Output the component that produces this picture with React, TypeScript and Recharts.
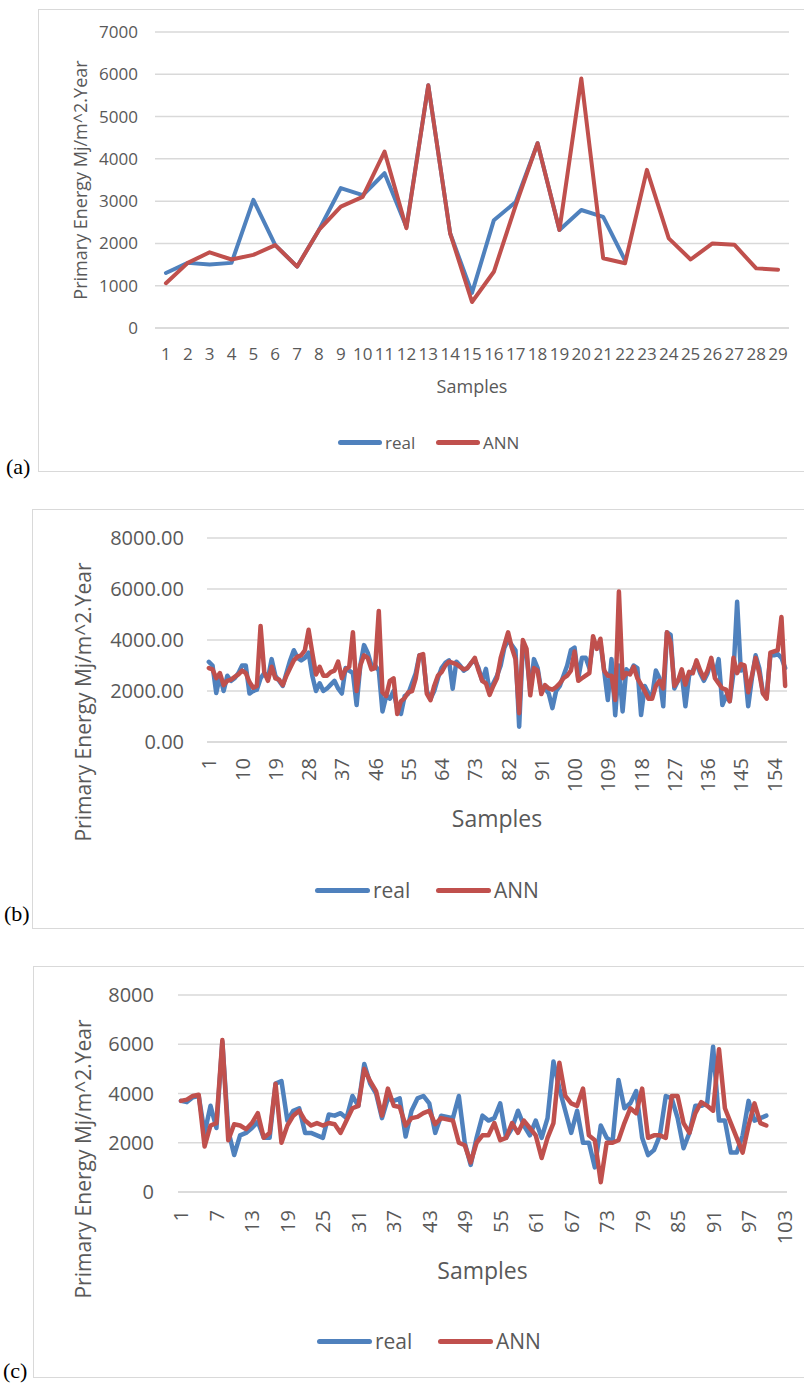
import React from "react";
import { CartesianGrid, Label, Line, LineChart, XAxis, YAxis } from "recharts";

const BLUE = "#4f81bd";
const RED = "#c0504d";
const GRID = "#d9d9d9";
const TEXT = "#595959";
const FONT = "'Open Sans', sans-serif";
const Y_TITLE = "Primary Energy Mj/m^2.Year";

// panel (a): 29 samples, real only known for the first 22
const aSamples = Array.from({ length: 29 }, (_, i) => String(i + 1));
const aReal = [1300, 1540, 1500, 1540, 3030, 1960, 1450, 2320, 3310, 3140, 3660, 2390, 5740, 2240, 830, 2550, 2980, 4370, 2320, 2790, 2630, 1600];
const aAnn = [1060, 1540, 1790, 1620, 1730, 1960, 1450, 2320, 2870, 3100, 4170, 2360, 5740, 2240, 615, 1330, 2900, 4370, 2320, 5900, 1650, 1530, 3740, 2120, 1620, 2000, 1970, 1410, 1380];
const aTicks = [0, 1000, 2000, 3000, 4000, 5000, 6000, 7000];

// panel (b): 157 samples
const bSamples = Array.from({ length: 157 }, (_, i) => String(i + 1));
const bReal = [
  3140, 3000, 1920, 2600, 2000, 2600, 2400, 2500, 2700, 3000,
  3000, 1900, 2000, 2050, 2500, 2700, 2500, 3250, 2600, 2400,
  2200, 2700, 3200, 3600, 3300, 3200, 3300, 3500, 2600, 2000,
  2300, 2000, 2100, 2250, 2400, 2100, 1900, 2900, 2800, 2700,
  1450, 3000, 3800, 3500, 3000, 3000, 2800, 1200, 1800, 1700,
  2000, 1300, 1100, 1800, 1900, 2300, 2700, 3400, 3300, 2000,
  1700, 2000, 2500, 2900, 3100, 3200, 2090, 3150, 3000, 2800,
  2900, 3100, 3200, 2900, 2400, 2870, 2000, 2300, 2600, 3000,
  3700, 4000, 3800, 3600, 600, 3800, 3400, 2000, 3250, 2900,
  2000, 2100, 1900, 1330, 2000, 2200, 2600, 3000, 3600, 3700,
  2500, 3300, 3300, 2900, 3900, 3800, 3900, 2800, 1650, 3250,
  1050, 3000, 1200, 2850, 2700, 3000, 2900, 1060, 2200, 1900,
  1800, 2800, 2500, 1400, 4300, 4200, 2100, 2400, 2700, 1400,
  2600, 2800, 3100, 2700, 2400, 2700, 3200, 2600, 3250, 1450,
  1800, 1600, 2700, 5500, 2800, 2900, 1400, 2500, 3400, 2900,
  1900, 1800, 3400, 3400, 3450, 3300, 2900,
];
const bAnn = [
  2900, 2850, 2500, 2700, 2230, 2400, 2450, 2550, 2650, 2800,
  2700, 2350, 2130, 2200, 4550, 2740, 2400, 2950, 2500, 2450,
  2230, 2600, 2900, 3200, 3350, 3400, 3600, 4400, 3500, 2650,
  2950, 2600, 2600, 2740, 2800, 3150, 2500, 2850, 2950, 4300,
  2000, 3000, 3400, 3300, 2850, 2900, 5140, 1950, 1800, 2400,
  2500, 1100, 1600, 1720, 1950, 2000, 2500, 3400, 3450, 1900,
  1640, 2200, 2600, 2740, 3000, 3150, 3100, 3050, 2950, 2850,
  2900, 3100, 3300, 2800, 2400, 2300, 1850, 2200, 2500, 3300,
  3800, 4300, 3700, 3250, 1130, 4000, 3650, 1830, 2900, 2800,
  1880, 2230, 2100, 2050, 2150, 2300, 2500, 2600, 2800, 3550,
  2400, 2500, 2600, 2700, 4150, 3650, 4050, 2800, 2600, 2600,
  1650, 5900, 2500, 2700, 2650, 2950, 2500, 2250, 2000, 1700,
  1700, 2200, 2400, 2100, 4300, 3900, 2200, 2400, 2850, 2250,
  2750, 2700, 3200, 2800, 2500, 2800, 3300, 2500, 2300, 2100,
  2050, 1600, 3300, 2700, 3050, 3000, 1950, 2600, 3300, 2700,
  1900, 1700, 3500, 3550, 3600, 4900, 2200,
];
const bTicks = [0, 2000, 4000, 6000, 8000];

// panel (c): axis runs to 103, data stops at 100
const cSamples = Array.from({ length: 103 }, (_, i) => String(i + 1));
const cReal = [
  3700, 3650, 3850, 3900, 2400, 3500, 2600, 6100, 2500, 1500,
  2300, 2400, 2600, 2850, 2200, 2200, 4400, 4500, 2900, 3300,
  3400, 2400, 2400, 2300, 2200, 3150, 3100, 3200, 3000, 3900,
  3500, 5200, 4400, 4000, 3000, 3800, 3700, 3800, 2250, 3300,
  3800, 3900, 3600, 2400, 3100, 3050, 3000, 3900, 2000, 1100,
  2200, 3100, 2900, 3000, 3600, 2200, 2600, 3300, 2700, 2300,
  2900, 2200, 3000, 5300, 4200, 3300, 2400, 3300, 2000, 2000,
  1000, 2700, 2200, 2050, 4550, 3400, 3600, 4100, 2200, 1500,
  1700, 2300, 3900, 3800, 3000, 1780, 2400, 3500, 3500, 3600,
  5900, 2900, 2900, 1600, 1600, 2300, 3700, 2900, 3000, 3100,
];
const cAnn = [
  3700, 3750, 3900, 3950, 1850, 2700, 2800, 6170, 2100, 2750,
  2700, 2550, 2800, 3200, 2200, 2400, 4400, 2000, 2700, 3100,
  3300, 2900, 2700, 2800, 2700, 2800, 2750, 2400, 2900, 3400,
  3500, 5000, 4500, 4100, 3100, 4200, 3500, 3450, 2700, 3000,
  3050, 3200, 3300, 2750, 3000, 2950, 2900, 2000, 1900, 1200,
  2000, 2300, 2300, 2800, 2100, 2200, 2800, 2400, 2900, 2600,
  2300, 1380, 2200, 2800, 5250, 3900, 3600, 3500, 4200, 2300,
  2100, 400, 2000, 2000, 2100, 2800, 3400, 3200, 4200, 2200,
  2300, 2300, 2200, 3900, 3900, 2800, 2400, 3200, 3650, 3500,
  3300, 5800, 3400, 2800, 2200, 1600, 2700, 3600, 2800, 2700,
];
const cTicks = [0, 2000, 4000, 6000, 8000];

type Row = { sample: string; real: number | null; ann: number | null };

function makeRows(samples: string[], real: number[], ann: number[]): Row[] {
  return samples.map((s, i) => ({
    sample: s,
    real: real[i] ?? null,
    ann: ann[i] ?? null,
  }));
}

interface PanelProps {
  tag: string;
  tagLeft: number;
  tagTop: number;
  left: number;
  top: number;
  width: number;
  height: number;
  margin: { top: number; right: number; bottom: number; left: number };
  rows: Row[];
  yTicks: number[];
  yFormat: (v: number) => string;
  yAxisWidth: number;
  yTickMargin: number;
  tickFont: number;
  xInterval: number;
  xRotate: boolean;
  xTickMargin: number;
  xAxisHeight: number;
  titleFont: number;
  xTitleFont: number;
  yTitle: { x: number; y: number };
  xTitleY: number;
  legend: { left: number; top: number; gap: number; swatch: number; font: number };
  strokeWidth: number;
}

function Panel(p: PanelProps) {
  const plotLeft = p.margin.left + p.yAxisWidth;
  const plotW = p.width - plotLeft - p.margin.right;
  const half = plotW / (2 * p.rows.length);

  const rotatedTick = (props: any) => {
    const { x, y, payload } = props;
    return (
      <text
        x={x}
        y={y}
        transform={`rotate(-90 ${x} ${y})`}
        textAnchor="end"
        dominantBaseline="central"
        fill={TEXT}
        fontSize={p.tickFont}
        fontFamily={FONT}
      >
        {payload.value}
      </text>
    );
  };

  const legendItem = (name: string, color: string, x: number) => (
    <div
      style={{
        position: "absolute",
        left: x,
        top: 0,
        display: "flex",
        alignItems: "center",
        height: 0,
      }}
    >
      <div style={{ width: p.legend.swatch, height: 5, borderRadius: 3, background: color, marginRight: 3 }} />
      <span style={{ fontSize: p.legend.font, color: TEXT, fontFamily: FONT, lineHeight: 1 }}>{name}</span>
    </div>
  );

  return (
    <>
      <div
        style={{
          position: "absolute",
          left: p.left,
          top: p.top,
          width: p.width + 20,
          height: p.height,
          border: `1.5px solid ${GRID}`,
          boxSizing: "border-box",
        }}
      />
      <div
        style={{
          position: "absolute",
          left: p.tagLeft,
          top: p.tagTop,
          fontFamily: "'Liberation Serif', 'Times New Roman', serif",
          fontSize: 22,
          lineHeight: "24px",
          color: "#000",
        }}
      >
        {p.tag}
      </div>
      <div style={{ position: "absolute", left: p.left, top: p.top }}>
        <LineChart width={p.width} height={p.height} data={p.rows} margin={p.margin}>
          <CartesianGrid stroke={GRID} strokeWidth={1.5} vertical={false} />
          <XAxis
            dataKey="sample"
            type="category"
            interval={p.xInterval}
            height={p.xAxisHeight}
            padding={{ left: half, right: half }}
            tickLine={false}
            tickSize={0}
            tickMargin={p.xTickMargin}
            axisLine={{ stroke: GRID, strokeWidth: 1.5 }}
            tick={p.xRotate ? rotatedTick : { fontSize: p.tickFont, fill: TEXT, fontFamily: FONT }}
          >
            <Label
              content={() => (
                <text
                  x={plotLeft + plotW / 2}
                  y={p.xTitleY}
                  textAnchor="middle"
                  dominantBaseline="central"
                  fill={TEXT}
                  fontSize={p.xTitleFont}
                  fontFamily={FONT}
                >
                  Samples
                </text>
              )}
            />
          </XAxis>
          <YAxis
            type="number"
            width={p.yAxisWidth}
            domain={[p.yTicks[0], p.yTicks[p.yTicks.length - 1]]}
            ticks={p.yTicks}
            interval={0}
            tickLine={false}
            tickSize={0}
            tickMargin={p.yTickMargin}
            axisLine={false}
            tickFormatter={(v) => p.yFormat(Number(v))}
            tick={{ fontSize: p.tickFont, fill: TEXT, fontFamily: FONT }}
          >
            <Label
              content={() => (
                <text
                  x={p.yTitle.x}
                  y={p.yTitle.y}
                  transform={`rotate(-90 ${p.yTitle.x} ${p.yTitle.y})`}
                  textAnchor="middle"
                  dominantBaseline="central"
                  fill={TEXT}
                  fontSize={p.titleFont}
                  fontFamily={FONT}
                >
                  {Y_TITLE}
                </text>
              )}
            />
          </YAxis>
          <Line
            dataKey="real"
            name="real"
            stroke={BLUE}
            strokeWidth={p.strokeWidth}
            dot={false}
            strokeLinejoin="round"
            strokeLinecap="round"
            isAnimationActive={false}
          />
          <Line
            dataKey="ann"
            name="ANN"
            stroke={RED}
            strokeWidth={p.strokeWidth}
            dot={false}
            strokeLinejoin="round"
            strokeLinecap="round"
            isAnimationActive={false}
          />
        </LineChart>
        <div style={{ position: "absolute", left: p.legend.left, top: p.legend.top }}>
          {legendItem("real", BLUE, 0)}
          {legendItem("ANN", RED, p.legend.gap)}
        </div>
      </div>
    </>
  );
}

export default function App() {
  return (
    <div
      style={{
        position: "absolute",
        left: 0,
        top: 0,
        width: 804,
        height: 1388,
        overflow: "hidden",
        background: "#fff",
      }}
    >
      <Panel
        tag="(a)"
        tagLeft={6}
        tagTop={455}
        left={38}
        top={9}
        width={766}
        height={463}
        margin={{ top: 23, right: 15, bottom: 114, left: 57 }}
        rows={makeRows(aSamples, aReal, aAnn)}
        yTicks={aTicks}
        yFormat={(v) => String(v)}
        yAxisWidth={60}
        yTickMargin={17}
        tickFont={17}
        xInterval={0}
        xRotate={false}
        xTickMargin={20}
        xAxisHeight={30}
        titleFont={18}
        xTitleFont={18}
        yTitle={{ x: 42, y: 171 }}
        xTitleY={377}
        legend={{ left: 300, top: 433, gap: 98, swatch: 44, font: 17 }}
        strokeWidth={4}
      />
      <Panel
        tag="(b)"
        tagLeft={4}
        tagTop={902}
        left={32}
        top={509}
        width={772}
        height={420}
        margin={{ top: 29, right: 17, bottom: 127, left: 75 }}
        rows={makeRows(bSamples, bReal, bAnn)}
        yTicks={bTicks}
        yFormat={(v) => v.toFixed(2)}
        yAxisWidth={100}
        yTickMargin={23}
        tickFont={20}
        xInterval={8}
        xRotate={true}
        xTickMargin={16}
        xAxisHeight={60}
        titleFont={21}
        xTitleFont={23}
        yTitle={{ x: 51, y: 193 }}
        xTitleY={309}
        legend={{ left: 283, top: 381, gap: 121, swatch: 55, font: 21 }}
        strokeWidth={4.5}
      />
      <Panel
        tag="(c)"
        tagLeft={3}
        tagTop={1359}
        left={33}
        top={966}
        width={771}
        height={412}
        margin={{ top: 29, right: 17, bottom: 126, left: 45 }}
        rows={makeRows(cSamples, cReal, cAnn)}
        yTicks={cTicks}
        yFormat={(v) => String(v)}
        yAxisWidth={100}
        yTickMargin={24}
        tickFont={20}
        xInterval={5}
        xRotate={true}
        xTickMargin={18}
        xAxisHeight={60}
        titleFont={21}
        xTitleFont={23}
        yTitle={{ x: 50, y: 193 }}
        xTitleY={304}
        legend={{ left: 284, top: 375, gap: 121, swatch: 55, font: 21 }}
        strokeWidth={4.5}
      />
    </div>
  );
}
